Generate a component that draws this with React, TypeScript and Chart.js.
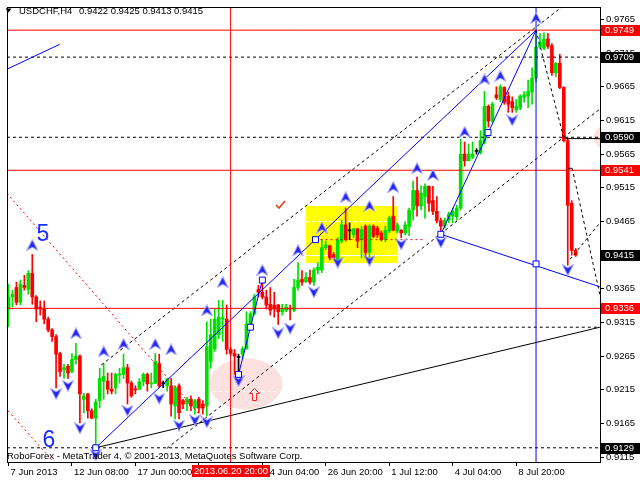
import React, { useEffect, useRef } from "react";
import { Chart, registerables } from "chart.js";

Chart.register(...registerables);

// ---------------- data ----------------
const SYMBOL = "USDCHF,H4";
const COPYRIGHT = "RoboForex - MetaTrader 4, © 2001-2013, MetaQuotes Software Corp.";
const CROSSHAIR_LABEL = "2013.06.20 20:00";
const CROSSHAIR_BAR = 56;
const PEAK_BAR = 133;

const OPEN = [
  0.9335, 0.9353, 0.9367, 0.9345, 0.9370, 0.9364, 0.9388, 0.9353, 0.9338, 0.9335,
  0.9320, 0.9304, 0.9294, 0.9269, 0.9245, 0.9250, 0.9242, 0.9260, 0.9265, 0.9201,
  0.9209, 0.9184, 0.9173, 0.9199, 0.9228, 0.9228, 0.9216, 0.9218, 0.9237, 0.9238,
  0.9248, 0.9225, 0.9216, 0.9216, 0.9227, 0.9238, 0.9224, 0.9225, 0.9254, 0.9224,
  0.9221, 0.9221, 0.9191, 0.9221, 0.9199, 0.9194, 0.9201, 0.9188, 0.9201, 0.9194,
  0.9191, 0.9257, 0.9276, 0.9297, 0.9320, 0.9320, 0.9275, 0.9269, 0.9263, 0.9268,
  0.9276, 0.9306, 0.9328, 0.9364, 0.9360, 0.9353, 0.9342, 0.9341, 0.9341, 0.9331,
  0.9333, 0.9336, 0.9333, 0.9367, 0.9379, 0.9375, 0.9382, 0.9375, 0.9393, 0.9393,
  0.9426, 0.9429, 0.9416, 0.9408, 0.9436, 0.9460, 0.9451, 0.9445, 0.9454, 0.9438,
  0.9458, 0.9419, 0.9458, 0.9455, 0.9448, 0.9438, 0.9451, 0.9473, 0.9451, 0.9452,
  0.9448, 0.9457, 0.9482, 0.9511, 0.9488, 0.9502, 0.9517, 0.9496, 0.9480, 0.9466,
  0.9458, 0.9467, 0.9473, 0.9472, 0.9485, 0.9565, 0.9555, 0.9560, 0.9569, 0.9567,
  0.9583, 0.9636, 0.9614, 0.9653, 0.9646, 0.9664, 0.9651, 0.9643, 0.9631, 0.9634,
  0.9649, 0.9651, 0.9657, 0.9678, 0.9724, 0.9722, 0.9736, 0.9726, 0.9686, 0.9700,
  0.9664, 0.9585, 0.9492, 0.9422,
];
const HIGH = [
  0.9372, 0.9363, 0.9375, 0.9378, 0.9385, 0.9392, 0.9416, 0.9355, 0.9347, 0.9347,
  0.9323, 0.9306, 0.9297, 0.9271, 0.9253, 0.9253, 0.9269, 0.9284, 0.9267, 0.9210,
  0.9210, 0.9187, 0.9201, 0.9247, 0.9254, 0.9240, 0.9240, 0.9240, 0.9247, 0.9268,
  0.9253, 0.9228, 0.9221, 0.9232, 0.9240, 0.9240, 0.9240, 0.9269, 0.9268, 0.9228,
  0.9232, 0.9232, 0.9221, 0.9224, 0.9201, 0.9204, 0.9206, 0.9201, 0.9204, 0.9199,
  0.9316, 0.9320, 0.9335, 0.9348, 0.9348, 0.9341, 0.9278, 0.9275, 0.9268, 0.9279,
  0.9331, 0.9331, 0.9357, 0.9370, 0.9378, 0.9363, 0.9367, 0.9360, 0.9342, 0.9342,
  0.9342, 0.9341, 0.9379, 0.9404, 0.9392, 0.9389, 0.9393, 0.9396, 0.9404, 0.9438,
  0.9436, 0.9430, 0.9419, 0.9441, 0.9467, 0.9485, 0.9463, 0.9455, 0.9455, 0.9458,
  0.9460, 0.9460, 0.9460, 0.9458, 0.9451, 0.9458, 0.9473, 0.9502, 0.9463, 0.9453,
  0.9465, 0.9485, 0.9525, 0.9531, 0.9518, 0.9521, 0.9518, 0.9517, 0.9502, 0.9470,
  0.9470, 0.9479, 0.9485, 0.9489, 0.9587, 0.9583, 0.9580, 0.9583, 0.9573, 0.9600,
  0.9658, 0.9638, 0.9642, 0.9665, 0.9668, 0.9665, 0.9657, 0.9650, 0.9646, 0.9653,
  0.9658, 0.9675, 0.9693, 0.9749, 0.9744, 0.9745, 0.9744, 0.9729, 0.9701, 0.9713,
  0.9665, 0.9589, 0.9496, 0.9425,
];
const LOW = [
  0.9309, 0.9338, 0.9341, 0.9341, 0.9363, 0.9357, 0.9342, 0.9316, 0.9326, 0.9313,
  0.9301, 0.9287, 0.9218, 0.9235, 0.9232, 0.9232, 0.9240, 0.9253, 0.9166, 0.9181,
  0.9173, 0.9172, 0.9129, 0.9188, 0.9201, 0.9209, 0.9209, 0.9209, 0.9225, 0.9232,
  0.9194, 0.9204, 0.9209, 0.9215, 0.9221, 0.9213, 0.9218, 0.9224, 0.9218, 0.9218,
  0.9213, 0.9176, 0.9172, 0.9172, 0.9187, 0.9184, 0.9184, 0.9179, 0.9181, 0.9179,
  0.9176, 0.9247, 0.9272, 0.9291, 0.9287, 0.9268, 0.9266, 0.9238, 0.9238, 0.9262,
  0.9275, 0.9304, 0.9326, 0.9353, 0.9350, 0.9335, 0.9326, 0.9323, 0.9312, 0.9326,
  0.9331, 0.9319, 0.9331, 0.9363, 0.9370, 0.9375, 0.9372, 0.9370, 0.9387, 0.9389,
  0.9423, 0.9408, 0.9408, 0.9407, 0.9433, 0.9436, 0.9438, 0.9441, 0.9426, 0.9411,
  0.9411, 0.9407, 0.9441, 0.9441, 0.9436, 0.9435, 0.9448, 0.9451, 0.9448, 0.9441,
  0.9445, 0.9444, 0.9467, 0.9473, 0.9482, 0.9470, 0.9480, 0.9475, 0.9463, 0.9445,
  0.9455, 0.9463, 0.9463, 0.9467, 0.9482, 0.9547, 0.9555, 0.9558, 0.9565, 0.9565,
  0.9580, 0.9605, 0.9612, 0.9646, 0.9643, 0.9639, 0.9627, 0.9627, 0.9627, 0.9631,
  0.9642, 0.9634, 0.9639, 0.9672, 0.9722, 0.9720, 0.9722, 0.9682, 0.9680, 0.9662,
  0.9583, 0.9400, 0.9415, 0.9413,
];
const CLOSE = [
  0.9353, 0.9357, 0.9345, 0.9372, 0.9367, 0.9388, 0.9353, 0.9335, 0.9335, 0.9320,
  0.9304, 0.9294, 0.9268, 0.9242, 0.9248, 0.9240, 0.9260, 0.9265, 0.9209, 0.9206,
  0.9184, 0.9173, 0.9197, 0.9232, 0.9235, 0.9216, 0.9213, 0.9238, 0.9238, 0.9248,
  0.9225, 0.9206, 0.9215, 0.9227, 0.9238, 0.9224, 0.9225, 0.9257, 0.9221, 0.9224,
  0.9231, 0.9194, 0.9218, 0.9181, 0.9194, 0.9201, 0.9191, 0.9199, 0.9188, 0.9188,
  0.9279, 0.9297, 0.9320, 0.9323, 0.9322, 0.9275, 0.9269, 0.9265, 0.9263, 0.9276,
  0.9313, 0.9328, 0.9353, 0.9360, 0.9353, 0.9341, 0.9333, 0.9335, 0.9331, 0.9336,
  0.9338, 0.9335, 0.9367, 0.9378, 0.9375, 0.9382, 0.9375, 0.9393, 0.9397, 0.9426,
  0.9430, 0.9411, 0.9411, 0.9438, 0.9460, 0.9438, 0.9451, 0.9454, 0.9436, 0.9453,
  0.9419, 0.9458, 0.9443, 0.9445, 0.9438, 0.9452, 0.9470, 0.9452, 0.9460, 0.9448,
  0.9460, 0.9482, 0.9511, 0.9488, 0.9507, 0.9517, 0.9492, 0.9480, 0.9466, 0.9458,
  0.9467, 0.9476, 0.9480, 0.9485, 0.9565, 0.9555, 0.9565, 0.9565, 0.9569, 0.9585,
  0.9636, 0.9614, 0.9639, 0.9649, 0.9665, 0.9642, 0.9639, 0.9634, 0.9636, 0.9651,
  0.9653, 0.9658, 0.9678, 0.9724, 0.9731, 0.9736, 0.9725, 0.9686, 0.9700, 0.9664,
  0.9585, 0.9489, 0.9422, 0.9415,
];

const X_TICK_BARS = [0, 16, 32, 48, 64, 80, 96, 112, 128];
const X_TICK_LABELS = [
  "7 Jun 2013", "12 Jun 08:00", "17 Jun 00:00", "19 Jun 12:00", "24 Jun 04:00",
  "26 Jun 20:00", "1 Jul 12:00", "4 Jul 04:00", "8 Jul 20:00",
];
const Y_TICKS = [
  0.9115, 0.9165, 0.9215, 0.9265, 0.9315, 0.9365, 0.9415, 0.9465, 0.9515, 0.9565,
  0.9615, 0.9665, 0.9715, 0.9765,
];

const X_MIN = -0.375;
const X_MAX = 149.125;
const Y_MIN = 0.91079;
const Y_MAX = 0.97834;

// horizontal levels
const RED_LEVELS = [0.9749, 0.9541, 0.9336];
const DASHED_LEVELS = [0.9709, 0.9590, 0.9129];
const RED_TAGS = [0.9749, 0.9541, 0.9336];
const BLACK_TAGS = [0.9709, 0.9590, 0.9129];

// trend lines: [bar, price] pairs
const BLUE_LINES = [
  [[22, 0.9129], [133, 0.9749]],
  [[109, 0.9446], [133, 0.9749]],
  [[109, 0.9446], [149.1, 0.9368]],
  [[58, 0.9238], [64, 0.9378]],
  [[-0.4, 0.9691], [12.9, 0.9728]],
];
const BLACK_SOLID_LINES = [
  [[22, 0.9129], [149.1, 0.9308]],
  [[140.4, 0.9588], [149.1, 0.9588]],
  [[141.1, 0.9544], [142.1, 0.9544]],
];
const BLACK_DASHED_LINES = [
  [[23.4, 0.9252], [139.4, 0.9783]],
  [[39.9, 0.9128], [149.1, 0.9632]],
  [[133, 0.9749], [139.9, 0.9591]],
  [[142.1, 0.9544], [149.1, 0.9356]],
  [[141.6, 0.9409], [149.1, 0.9463]],
  [[81, 0.9308], [149.1, 0.9308]],
];
const RED_DASHED_LINES = [
  [[-0.4, 0.9507], [51.6, 0.9155]],
  [[-0.1, 0.9184], [10.9, 0.9111]],
  [[77.4, 0.9438], [105, 0.9438]],
];
const WAVE_POINTS = [
  [22, 0.9129], [58, 0.9238], [61, 0.9308], [64, 0.9378], [77.4, 0.9438],
  [109, 0.9446], [120.9, 0.9597], [133, 0.9402],
];
const UP_FRACTALS = [
  [6, 0.9430], [17, 0.9299], [24, 0.9272], [29, 0.9283], [37, 0.9283], [41, 0.9275],
  [50, 0.9333], [54, 0.9375], [64, 0.9393], [73, 0.9422], [79, 0.9456], [85, 0.9501],
  [91, 0.9488], [97, 0.9516], [103, 0.9544], [107, 0.9534], [115, 0.9598], [120, 0.9676],
  [124, 0.9681], [133, 0.9767],
];
const DOWN_FRACTALS = [
  [12, 0.9209], [15, 0.9221], [18, 0.9158], [22, 0.9118], [30, 0.9184], [38, 0.9202],
  [43, 0.9162], [47, 0.9170], [50, 0.9167], [58, 0.9228], [68, 0.9299], [71, 0.9306],
  [77, 0.9360], [83, 0.9404], [91, 0.9407], [99, 0.9431], [109, 0.9434], [127, 0.9615],
  [141, 0.9393],
];
const HIGHLIGHT_BOX = [[74.9, 0.9488], [97.9, 0.9404]];
const HIGHLIGHT_BOX_LINES = [0.9465, 0.9415];
const ELLIPSE_A = [[50.6, 0.9262], [69.1, 0.9186]];
const ELLIPSE_A_LINE = 0.9214;
const ELLIPSE_B = [[147.6, 0.9608], [153.6, 0.9572]];
const WAVE_LABELS = [
  { text: "5", bar: 8.7, price: 0.9445 },
  { text: "6", bar: 10.2, price: 0.9140 },
];
const CHECK_MARK = [68.4, 0.9490];
const BUY_ARROW = [61.9, 0.9209];

// ---------------- styling ----------------
const GREEN = "#00e000";
const RED = "#ff0000";
const BLUE = "#0000ff";
const BLACK = "#000000";
const FONT = "'Liberation Sans', Arial, sans-serif";

function makeArrowImage(pointUp: boolean): HTMLCanvasElement {
  const c = document.createElement("canvas");
  c.width = 12;
  c.height = 12;
  const g = c.getContext("2d")!;
  g.beginPath();
  if (pointUp) {
    g.moveTo(6, 0.5);
    g.lineTo(11.5, 11.5);
    g.lineTo(6, 8);
    g.lineTo(0.5, 11.5);
  } else {
    g.moveTo(6, 11.5);
    g.lineTo(11.5, 0.5);
    g.lineTo(6, 4);
    g.lineTo(0.5, 0.5);
  }
  g.closePath();
  g.fillStyle = "#2424f4";
  g.fill();
  g.strokeStyle = "#a4a4ff";
  g.lineWidth = 1;
  g.stroke();
  return c;
}

function seg(pts: number[][], color: string, dash: number[], order: number) {
  return {
    type: "line" as const,
    data: pts.map(([b, p]) => ({ x: b, y: p })),
    borderColor: color,
    borderWidth: 1,
    borderDash: dash,
    borderCapStyle: "butt" as const,
    pointRadius: 0,
    pointHoverRadius: 0,
    fill: false,
    tension: 0,
    order,
  };
}

const candleColor = (i: number) =>
  CLOSE[i] > OPEN[i] ? GREEN : CLOSE[i] < OPEN[i] ? RED : BLACK;

const overlayPlugin = {
  id: "mt4Overlay",
  beforeDatasetsDraw(chart: any) {
    const { ctx, chartArea: a } = chart;
    const xs = chart.scales.x;
    const ys = chart.scales.y;
    const px = (b: number) => xs.getPixelForValue(b);
    const py = (p: number) => ys.getPixelForValue(p);
    ctx.save();
    ctx.beginPath();
    ctx.rect(a.left, a.top, a.right - a.left, a.bottom - a.top);
    ctx.clip();
    // yellow rectangle
    const [[bx1, bp1], [bx2, bp2]] = HIGHLIGHT_BOX;
    const X1 = Math.round(px(bx1)), X2 = Math.round(px(bx2));
    const Y1 = Math.round(py(bp1)), Y2 = Math.round(py(bp2));
    ctx.fillStyle = "#ffff00";
    ctx.fillRect(X1, Y1, X2 - X1, Y2 - Y1);
    ctx.strokeStyle = "#ffffff";
    ctx.lineWidth = 1;
    HIGHLIGHT_BOX_LINES.forEach((p, k) => {
      const yy = Math.round(py(p)) + 0.5;
      ctx.setLineDash(k === 0 ? [3, 3] : []);
      ctx.beginPath();
      ctx.moveTo(X1, yy);
      ctx.lineTo(X2, yy);
      ctx.stroke();
    });
    ctx.setLineDash([]);
    // pink ellipses
    [ELLIPSE_A, ELLIPSE_B].forEach(([[ex1, ep1], [ex2, ep2]]) => {
      const cx = (px(ex1) + px(ex2)) / 2;
      const cy = (py(ep1) + py(ep2)) / 2;
      ctx.fillStyle = "#fde1e1";
      ctx.beginPath();
      ctx.ellipse(cx, cy, Math.abs(px(ex2) - px(ex1)) / 2, Math.abs(py(ep2) - py(ep1)) / 2, 0, 0, Math.PI * 2);
      ctx.fill();
    });
    {
      const [[ex1], [ex2]] = ELLIPSE_A;
      const yy = Math.round(py(ELLIPSE_A_LINE)) + 0.5;
      ctx.strokeStyle = "#ffffff";
      ctx.setLineDash([3, 3]);
      ctx.beginPath();
      ctx.moveTo(px(ex1) + 4, yy);
      ctx.lineTo(px(ex2) - 4, yy);
      ctx.stroke();
      ctx.setLineDash([]);
    }
    ctx.restore();
  },
  afterDatasetsDraw(chart: any) {
    const { ctx } = chart;
    const xs = chart.scales.x;
    const ys = chart.scales.y;
    ctx.save();
    // wave labels
    ctx.fillStyle = "#1a2eff";
    ctx.font = `23px ${FONT}`;
    ctx.textAlign = "center";
    ctx.textBaseline = "middle";
    WAVE_LABELS.forEach((l) => {
      ctx.fillText(l.text, xs.getPixelForValue(l.bar), ys.getPixelForValue(l.price));
    });
    // check mark
    {
      const cx = Math.round(xs.getPixelForValue(CHECK_MARK[0]));
      const cy = Math.round(ys.getPixelForValue(CHECK_MARK[1]));
      ctx.strokeStyle = "#e8401c";
      ctx.lineWidth = 1.6;
      ctx.beginPath();
      ctx.moveTo(cx - 4, cy);
      ctx.lineTo(cx - 1, cy + 3);
      ctx.lineTo(cx + 5, cy - 4);
      ctx.stroke();
    }
    // hollow buy arrow
    {
      const cx = Math.round(xs.getPixelForValue(BUY_ARROW[0])) + 0.5;
      const cy = Math.round(ys.getPixelForValue(BUY_ARROW[1])) + 0.5;
      ctx.beginPath();
      ctx.moveTo(cx, cy - 6);
      ctx.lineTo(cx + 5, cy - 1);
      ctx.lineTo(cx + 2, cy - 1);
      ctx.lineTo(cx + 2, cy + 6);
      ctx.lineTo(cx - 2, cy + 6);
      ctx.lineTo(cx - 2, cy - 1);
      ctx.lineTo(cx - 5, cy - 1);
      ctx.closePath();
      ctx.fillStyle = "#fff4f4";
      ctx.fill();
      ctx.strokeStyle = "#ff2020";
      ctx.lineWidth = 1;
      ctx.stroke();
    }
    ctx.restore();
  },
  afterDraw(chart: any) {
    const { ctx, chartArea: a } = chart;
    const xs = chart.scales.x;
    const ys = chart.scales.y;
    ctx.save();
    // frame
    ctx.strokeStyle = BLACK;
    ctx.lineWidth = 1;
    ctx.strokeRect(a.left + 0.5, a.top + 0.5, a.right - a.left, a.bottom - a.top);
    // title
    ctx.fillStyle = BLACK;
    ctx.beginPath();
    ctx.moveTo(5.5, 8.5);
    ctx.lineTo(11.5, 8.5);
    ctx.lineTo(8.5, 12.5);
    ctx.closePath();
    ctx.fill();
    ctx.font = `9.5px ${FONT}`;
    ctx.textAlign = "left";
    ctx.textBaseline = "alphabetic";
    const n = CLOSE.length - 1;
    ctx.fillText(SYMBOL, 19, 14);
    ctx.fillText(
      [OPEN[n], HIGH[n], LOW[n], CLOSE[n]].map((v) => v.toFixed(4)).join(" "),
      79,
      14
    );
    // copyright
    ctx.fillText(COPYRIGHT, 7, 459);
    // price tags
    const tag = (p: number, bg: string) => {
      const yy = Math.round(ys.getPixelForValue(p));
      ctx.fillStyle = bg;
      ctx.fillRect(601, yy - 5, 39, 11);
      ctx.fillStyle = "#ffffff";
      ctx.textBaseline = "middle";
      ctx.fillText(p.toFixed(4), 605, yy + 0.5);
    };
    RED_TAGS.forEach((p) => tag(p, RED));
    BLACK_TAGS.forEach((p) => tag(p, BLACK));
    tag(CLOSE[n], BLACK);
    // crosshair time tag
    const cx = Math.round(xs.getPixelForValue(CROSSHAIR_BAR));
    ctx.fillStyle = RED;
    ctx.fillRect(cx - 39, 465, 78, 12);
    ctx.fillStyle = "#ffffff";
    ctx.textAlign = "center";
    ctx.textBaseline = "middle";
    ctx.font = `9.5px ${FONT}`;
    ctx.fillText(CROSSHAIR_LABEL, cx, 471.5);
    ctx.restore();
  },
};

export default function App() {
  const ref = useRef<HTMLCanvasElement | null>(null);

  useEffect(() => {
    document.body.style.margin = "0";
    const canvas = ref.current;
    if (!canvas) return;
    const idx = OPEN.map((_, i) => i);
    const upImg = makeArrowImage(true);
    const downImg = makeArrowImage(false);

    const datasets: any[] = [
      {
        type: "bar",
        data: idx.map((i) => ({ x: i, y: [LOW[i], HIGH[i]] })),
        backgroundColor: idx.map(candleColor),
        barThickness: 1,
        grouped: false,
        order: 6,
      },
      {
        type: "bar",
        data: idx.map((i) => ({ x: i, y: [OPEN[i], CLOSE[i]] })),
        backgroundColor: idx.map(candleColor),
        barThickness: 3,
        minBarLength: 1,
        grouped: false,
        order: 5,
      },
      ...RED_LEVELS.map((p) => seg([[X_MIN, p], [X_MAX, p]], RED, [], 3)),
      ...DASHED_LEVELS.map((p) => seg([[X_MIN, p], [X_MAX, p]], BLACK, [3, 3], 3)),
      ...BLACK_DASHED_LINES.map((l) => seg(l, BLACK, [3, 3], 3)),
      ...BLACK_SOLID_LINES.map((l) => seg(l, BLACK, [], 3)),
      ...RED_DASHED_LINES.map((l) => seg(l, RED, [2, 3], 3)),
      seg([[CROSSHAIR_BAR, Y_MIN], [CROSSHAIR_BAR, Y_MAX]], RED, [], 2),
      seg([[PEAK_BAR, Y_MIN], [PEAK_BAR, Y_MAX]], BLUE, [], 2),
      ...BLUE_LINES.map((l) => seg(l, BLUE, [], 2)),
      {
        type: "scatter",
        data: UP_FRACTALS.map(([b, p]) => ({ x: b, y: p })),
        pointStyle: upImg,
        pointRadius: 6,
        showLine: false,
        order: 1,
      },
      {
        type: "scatter",
        data: DOWN_FRACTALS.map(([b, p]) => ({ x: b, y: p })),
        pointStyle: downImg,
        pointRadius: 6,
        showLine: false,
        order: 1,
      },
      {
        type: "scatter",
        data: WAVE_POINTS.map(([b, p]) => ({ x: b, y: p })),
        pointStyle: "rect",
        pointRadius: 4.2,
        pointBackgroundColor: "#ffffff",
        pointBorderColor: BLUE,
        pointBorderWidth: 1,
        showLine: false,
        order: 0,
      },
    ];

    const tickFont = { family: FONT, size: 9.5 };

    const chart = new Chart(canvas, {
      type: "bar",
      data: { datasets },
      plugins: [overlayPlugin],
      options: {
        responsive: false,
        animation: false,
        devicePixelRatio: 1,
        events: [],
        layout: { padding: { left: 2, top: 2, right: 0, bottom: 0 } },
        plugins: { legend: { display: false }, tooltip: { enabled: false } },
        scales: {
          x: {
            type: "linear",
            min: X_MIN,
            max: X_MAX,
            offset: false,
            afterBuildTicks: (s: any) => {
              s.ticks = X_TICK_BARS.map((v) => ({ value: v }));
            },
            afterFit: (s: any) => {
              s.height = 18;
              s.paddingLeft = 0;
              s.paddingRight = 0;
            },
            ticks: {
              autoSkip: false,
              maxRotation: 0,
              minRotation: 0,
              align: "start",
              labelOffset: 2,
              padding: 1,
              color: BLACK,
              font: tickFont,
              callback: (_v: any, i: number) => X_TICK_LABELS[i],
            },
            grid: { drawOnChartArea: false, offset: false, tickLength: 4, color: BLACK },
            border: { display: false },
          },
          y: {
            type: "linear",
            position: "right",
            min: Y_MIN,
            max: Y_MAX,
            afterBuildTicks: (s: any) => {
              s.ticks = Y_TICKS.map((v) => ({ value: v }));
            },
            afterFit: (s: any) => {
              s.width = 40;
              s.paddingTop = 0;
              s.paddingBottom = 0;
            },
            ticks: {
              padding: 2,
              color: BLACK,
              font: tickFont,
              callback: (v: any) => Number(v).toFixed(4),
            },
            grid: { drawOnChartArea: false, tickLength: 4, color: BLACK },
            border: { display: false },
          },
        },
      } as any,
    });

    return () => chart.destroy();
  }, []);

  return (
    <div style={{ width: 640, height: 480 }}>
      <canvas ref={ref} width={640} height={480} style={{ display: "block" }} />
    </div>
  );
}
